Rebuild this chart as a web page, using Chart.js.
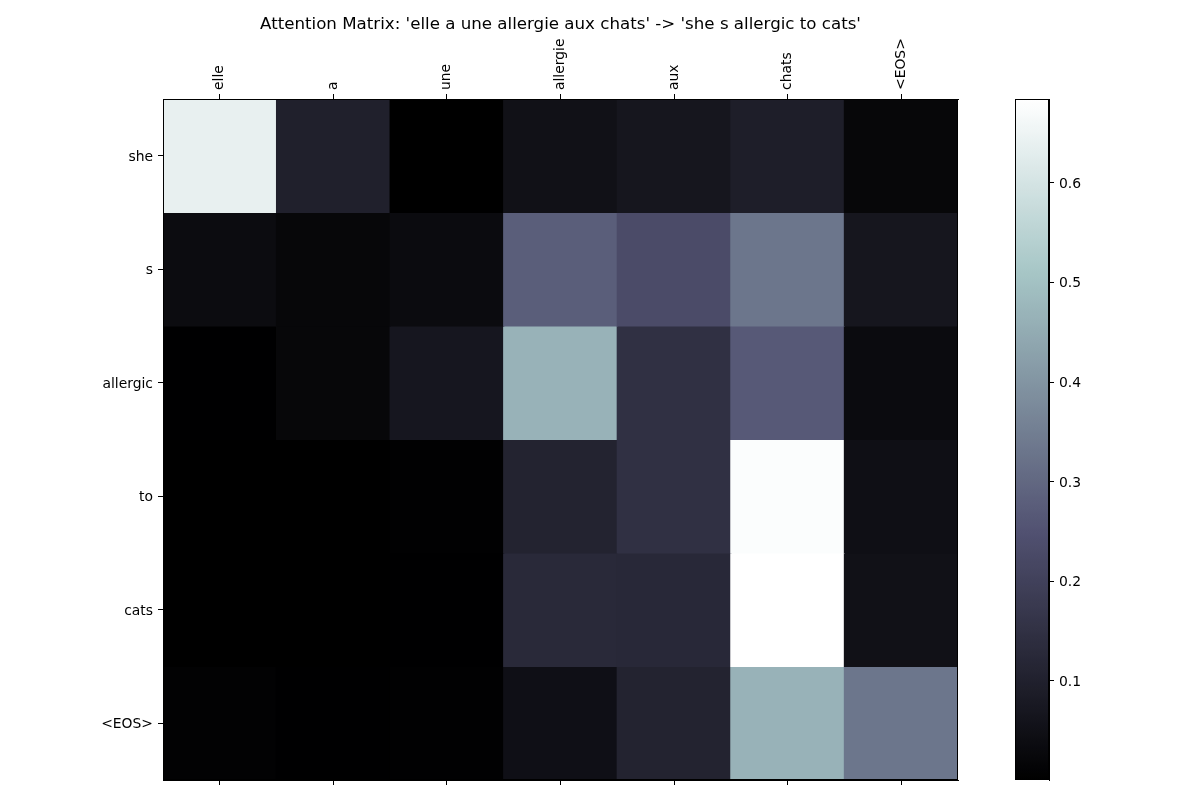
<!DOCTYPE html>
<html>
<head>
<meta charset="utf-8">
<script src="https://cdn.jsdelivr.net/npm/chart.js@4.4.1/dist/chart.umd.min.js"></script>
<style>
  html, body { margin: 0; padding: 0; background: #fff; }
  #wrap { position: relative; width: 1200px; height: 800px; }
  #main { position: absolute; left: 0; top: 0; }
  #cbar { position: absolute; left: 1000px; top: 0; }
</style>
</head>
<body>
<div id="wrap">
  <canvas id="main" width="1000" height="800"></canvas>
  <canvas id="cbar" width="200" height="800"></canvas>
</div>
<script>
// ---- data ----
const colLabels = ['elle', 'a', 'une', 'allergie', 'aux', 'chats', '<EOS>'];
const rowLabels = ['she', 's', 'allergic', 'to', 'cats', '<EOS>'];
const rowShe      = [0.639, 0.098, 0.001, 0.052, 0.067, 0.091, 0.021];
const rowS        = [0.036, 0.021, 0.034, 0.277, 0.230, 0.332, 0.067];
const rowAllergic = [0.002, 0.021, 0.069, 0.466, 0.149, 0.267, 0.034];
const rowTo       = [0.001, 0.001, 0.005, 0.107, 0.149, 0.677, 0.047];
const rowCats     = [0.001, 0.0006, 0.002, 0.126, 0.124, 0.684, 0.052];
const rowEos      = [0.008, 0.002, 0.005, 0.048, 0.107, 0.466, 0.332];
const colorbarTicks = [0.1, 0.2, 0.3, 0.4, 0.5, 0.6];
const titleText = "Attention Matrix: 'elle a une allergie aux chats' -> 'she s allergic to cats'";

const rows = [rowShe, rowS, rowAllergic, rowTo, rowCats, rowEos];
const allVals = rows.flat();
const vmin = Math.min(...allVals);
const vmax = Math.max(...allVals);

// matplotlib 'bone' colormap
function interp(seg, t) {
  for (let i = 1; i < seg.length; i++) {
    if (t <= seg[i][0]) {
      const [x0, y0] = seg[i - 1], [x1, y1] = seg[i];
      return y0 + (y1 - y0) * (t - x0) / (x1 - x0);
    }
  }
  return seg[seg.length - 1][1];
}
const boneR = [[0, 0], [0.746032, 0.652778], [1, 1]];
const boneG = [[0, 0], [0.365079, 0.319444], [0.746032, 0.777778], [1, 1]];
const boneB = [[0, 0], [0.365079, 0.444444], [1, 1]];
function bone(t) {
  t = Math.max(0, Math.min(1, t));
  const r = Math.round(interp(boneR, t) * 255);
  const g = Math.round(interp(boneG, t) * 255);
  const b = Math.round(interp(boneB, t) * 255);
  return `rgb(${r},${g},${b})`;
}
function colorFor(v) { return bone((v - vmin) / (vmax - vmin)); }

Chart.defaults.font.family = 'DejaVu Sans';
Chart.defaults.color = '#000';
const tickFont = { family: 'DejaVu Sans', size: 13.9 };

const frame = {
  id: 'frame',
  afterDraw(chart) {
    const { ctx, chartArea: a } = chart;
    ctx.save();
    ctx.strokeStyle = '#000';
    ctx.lineWidth = 1;
    ctx.strokeRect(Math.round(a.left) + 0.5, Math.round(a.top) + 0.5,
                   Math.round(a.right - a.left) - 1, Math.round(a.bottom - a.top) - 1);
    ctx.restore();
  }
};

const datasets = rows.map((vals, r) => ({
  label: rowLabels[r],
  data: vals.map(() => [r, r + 1]),
  backgroundColor: vals.map(colorFor),
  borderWidth: 0,
  inflateAmount: 0.6,
  barPercentage: 1,
  categoryPercentage: 1,
  grouped: false
}));

new Chart(document.getElementById('main'), {
  type: 'bar',
  data: { labels: colLabels, datasets },
  plugins: [frame],
  options: {
    responsive: false,
    animation: false,
    devicePixelRatio: 1,
    layout: { padding: { top: 0, bottom: 0, left: 0, right: 42 } },
    plugins: {
      legend: { display: false },
      tooltip: { enabled: false },
      title: {
        display: true,
        text: titleText,
        fullSize: false,
        color: '#000',
        font: { family: 'DejaVu Sans', size: 16.67, weight: 'normal', lineHeight: 1.2 },
        padding: { top: 15, bottom: 0 }
      }
    },
    scales: {
      x: {
        type: 'category',
        position: 'top',
        offset: true,
        grid: { offset: false, drawOnChartArea: false, drawTicks: true, tickLength: 5, tickColor: '#000' },
        border: { display: true, color: '#000' },
        ticks: { minRotation: 90, maxRotation: 90, autoSkip: false, padding: 4, labelOffset: 16.5,
                 font: tickFont, color: '#000' },
        afterFit(s) { s.height = 64; }
      },
      x2: {
        type: 'category',
        position: 'bottom',
        offset: true,
        labels: colLabels,
        grid: { offset: false, drawOnChartArea: false, drawTicks: true, tickLength: 5, tickColor: '#000' },
        border: { display: true, color: '#000' },
        ticks: { autoSkip: false, callback: () => '', font: tickFont },
        afterFit(s) { s.height = 20; }
      },
      y: {
        type: 'linear',
        reverse: true,
        min: 0,
        max: rowLabels.length,
        grid: { drawOnChartArea: false, drawTicks: true, tickLength: 5, tickColor: '#000' },
        border: { display: true, color: '#000' },
        afterBuildTicks(s) { s.ticks = rowLabels.map((_, i) => ({ value: i + 0.5 })); },
        ticks: { autoSkip: false, padding: 5, labelOffset: 1.5, font: tickFont, color: '#000',
                 callback: (v, i) => rowLabels[i] },
        afterFit(s) { s.width = 163; }
      }
    }
  }
});

// ---- colorbar ----
const nStops = 128;
new Chart(document.getElementById('cbar'), {
  type: 'bar',
  data: {
    labels: ['cb'],
    datasets: [{
      data: [[vmin, vmax]],
      borderWidth: 0,
      barPercentage: 1,
      categoryPercentage: 1,
      backgroundColor(ctx) {
        const chart = ctx.chart;
        if (!chart.chartArea) return '#000';
        const y = chart.scales.y;
        const g = chart.ctx.createLinearGradient(0, y.getPixelForValue(vmin), 0, y.getPixelForValue(vmax));
        for (let i = 0; i <= nStops; i++) g.addColorStop(i / nStops, bone(i / nStops));
        return g;
      }
    }]
  },
  plugins: [frame],
  options: {
    responsive: false,
    animation: false,
    devicePixelRatio: 1,
    layout: { padding: { top: 99, bottom: 20, left: 15, right: 0 } },
    plugins: { legend: { display: false }, tooltip: { enabled: false }, title: { display: false } },
    scales: {
      x: { display: false, offset: true },
      y: {
        type: 'linear',
        position: 'right',
        min: vmin,
        max: vmax,
        grid: { drawOnChartArea: false, drawTicks: true, tickLength: 5, tickColor: '#000' },
        border: { display: true, color: '#000' },
        afterBuildTicks(s) { s.ticks = colorbarTicks.map(v => ({ value: v })); },
        ticks: { padding: 5, labelOffset: 1.5, font: tickFont, color: '#000', callback: (v) => v.toFixed(1) },
        afterFit(s) { s.width = 151; }
      }
    }
  }
});
</script>
</body>
</html>
